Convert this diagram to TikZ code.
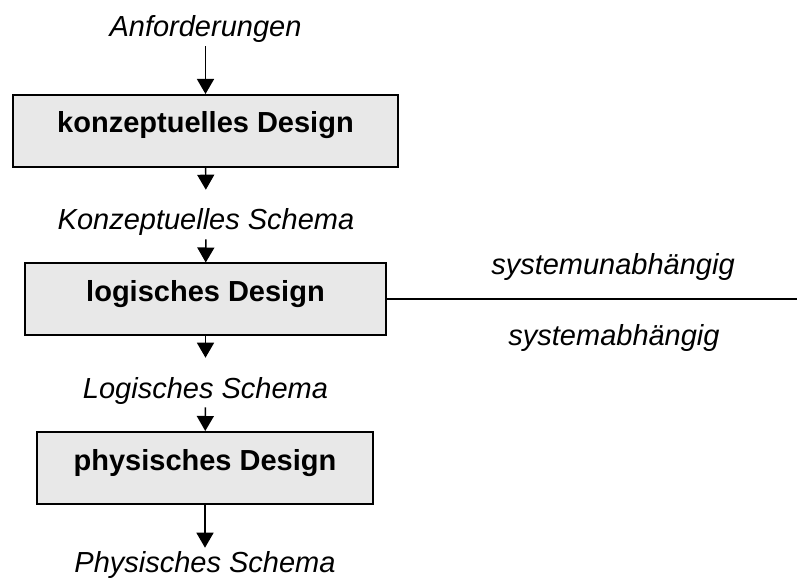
\documentclass[tikz,border=0pt]{standalone}
\usepackage{fontspec}
\setmainfont{Liberation Sans}
\usetikzlibrary{arrows.meta}
\definecolor{boxgray}{RGB}{232,232,232}
\begin{document}
\begin{tikzpicture}[x=0.75pt,y=-0.75pt,
  font=\fontsize{21.75}{26}\selectfont,
  designbox/.style={draw,line width=1.5pt,fill=boxgray,inner sep=0pt,
    text height=28.5pt,text depth=25.5pt,font=\fontsize{21.75}{26}\selectfont\bfseries},
  schema/.style={inner sep=2.25pt,font=\fontsize{21.75}{26}\selectfont\itshape},
  flow/.style={line width=1.1pt,-{Triangle[width=12.75pt,length=11.25pt]}}]
\useasboundingbox (0,0) rectangle (797,588);
\node[schema,anchor=base] (anf) at (205.5,37) {Anforderungen};
\node[designbox,minimum width=288.75pt] (konz) at (205.5,131) {konzeptuelles Design};
\node[schema,anchor=base] (ks) at (206,230) {Konzeptuelles Schema};
\node[designbox,minimum width=270.75pt] (log) at (205.5,299.5) {logisches Design};
\node[schema,anchor=base] (ls) at (205.5,398) {Logisches Schema};
\node[designbox,minimum width=252pt] (phys) at (205,468) {physisches Design};
\node[schema,anchor=base] (ps) at (205,572) {Physisches Schema};
\coordinate (rand) at (797,299.5);
\draw[flow] (anf) -- (konz);
\draw[flow,shorten >=12pt] (konz) -- (ks);
\draw[flow] (ks) -- (log);
\draw[flow,shorten >=12pt] (log) -- (ls);
\draw[flow] (ls) -- (phys);
\draw[flow] (phys) -- (ps);
\draw[line width=1.5pt] (log.east) -- (rand);
\node[schema,anchor=base] (su) at (613,275) {systemunabhängig};
\node[schema,anchor=base] (sa) at (614,345) {systemabhängig};
\end{tikzpicture}
\end{document}
